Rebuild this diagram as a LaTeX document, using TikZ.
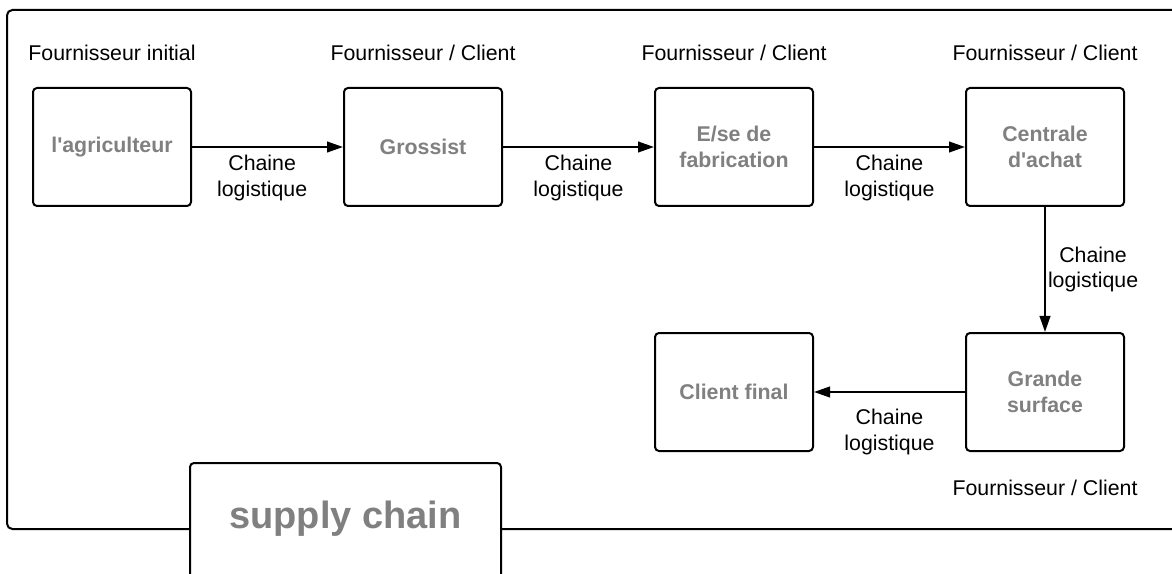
\documentclass[tikz,border=0pt]{standalone}
\usepackage{fontspec}
\setmainfont{Liberation Sans}
\usepackage{xcolor}
\usepackage{tikz}
\usetikzlibrary{positioning,arrows.meta}
\definecolor{boxgray}{RGB}{128,128,128}

\begin{document}
\begin{tikzpicture}[x=0.75pt, y=-0.75pt, node distance={93.75pt and 113.25pt}, line width=1.5pt,
  >={Triangle[length=12pt,width=8pt]},
  main/.style = {draw, fill=white, rounded corners=3pt, minimum width=118.5pt, minimum height=88.5pt, align=center, text=boxgray, font=\fontsize{16}{19.4}\selectfont\bfseries},
  role/.style = {font=\fontsize{16}{19.4}\selectfont, inner sep=0pt},
  flow/.style = {font=\fontsize{16}{19.4}\selectfont, align=center, inner sep=0pt}]
\useasboundingbox (0,0) rectangle (1172,574);
\clip (0,0) rectangle (1172,574);
% outer frame, open to the right
\draw[rounded corners=4pt] (1200,10) -- (7,10) -- (7,529) -- (1200,529);
\node[main] (a) at (112,147) {l\textquotesingle agriculteur};
\node[main] (b) [right=of a] {Grossist};
\node[main] (c) [right=of b] {E/se de\\fabrication};
\node[main] (d) [right=of c] {Centrale\\d\textquotesingle achat};
\node[main] (e) [below=of d] {Grande\\surface};
\node[main] (f) [left=of e] {Client final};
\node[role] (ra) [above=19.5pt of a.north, anchor=base] {Fournisseur initial};
\node[role] (rb) [above=19.5pt of b.north, anchor=base] {Fournisseur / Client};
\node[role] (rc) [above=19.5pt of c.north, anchor=base] {Fournisseur / Client};
\node[role] (rd) [above=19.5pt of d.north, anchor=base] {Fournisseur / Client};
\node[role] (re) [below=32.25pt of e.south, anchor=base] {Fournisseur / Client};
\draw[->] (a) -- node[flow, below=5.25pt, xshift=-4pt] {Chaine\\logistique} (b);
\draw[->] (b) -- node[flow, below=5.25pt] {Chaine\\logistique} (c);
\draw[->] (c) -- node[flow, below=5.25pt] {Chaine\\logistique} (d);
\draw[->] (d) -- node[flow, right=1.5pt] {Chaine\\logistique} (e);
\draw[->] (e) -- node[flow, below=12pt] {Chaine\\logistique} (f);
% title box, cut by the lower edge
\node[draw, fill=white, rounded corners=3pt, minimum width=233.25pt, minimum height=150pt, anchor=north] (sbox) at (345.5,462) {};
\node[anchor=base, text=boxgray, font=\fontsize{28.5}{34}\selectfont\bfseries] (stitle) at (345.5,528) {supply chain};
\end{tikzpicture}
\end{document}
